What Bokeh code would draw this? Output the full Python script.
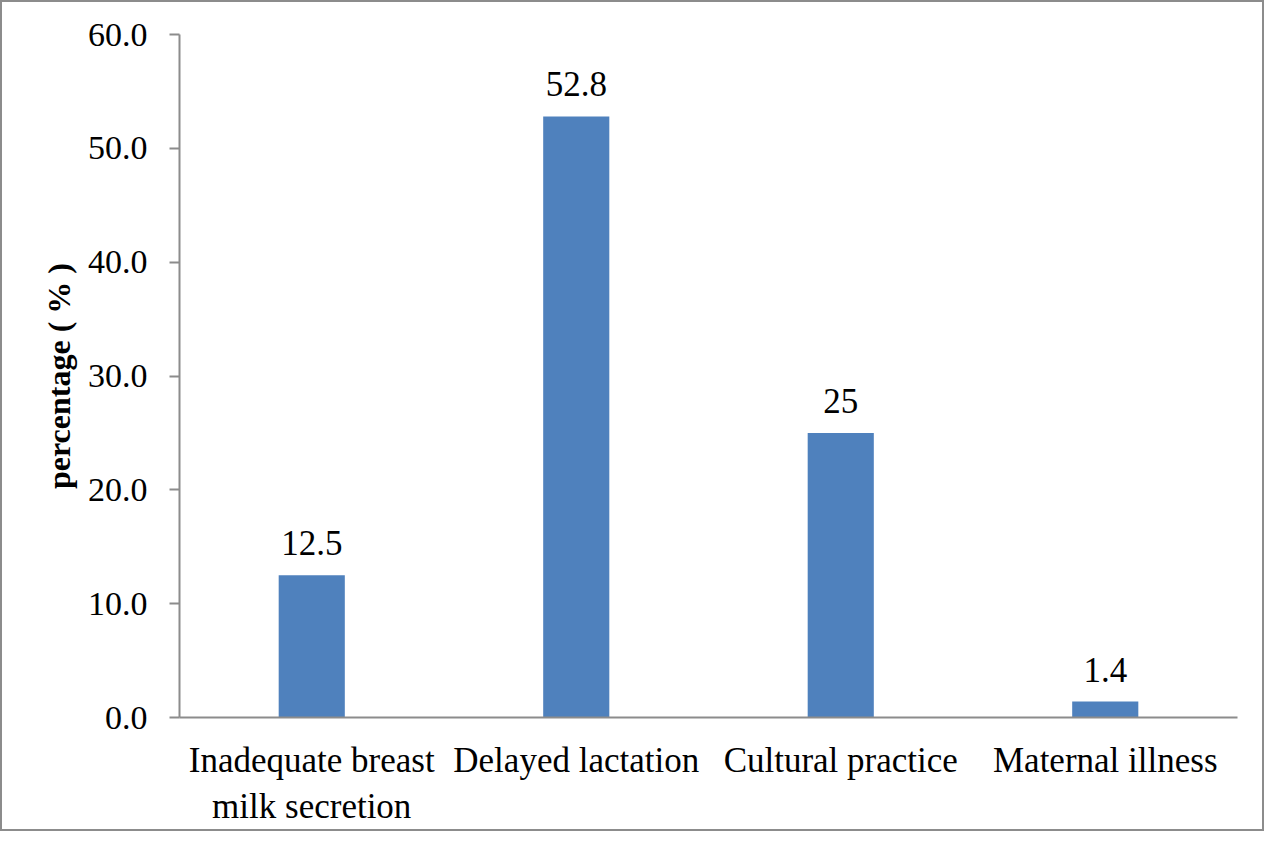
from bokeh.plotting import figure
from bokeh.models import ColumnDataSource, FactorRange, Range1d, FixedTicker, LabelSet, CustomJSTickFormatter
from bokeh.embed import file_html
from bokeh.resources import INLINE

categories = ["Inadequate breast\nmilk secretion", "Delayed lactation", "Cultural practice", "Maternal illness"]
values = [12.5, 52.8, 25.0, 1.4]
value_labels = ["12.5", "52.8", "25", "1.4"]
y_ticks = [0, 10, 20, 30, 40, 50, 60]

FONT = "'Liberation Serif', 'Times New Roman', serif"
GRAY = "#8c8c8c"
BLUE = "#4f81bd"

src = ColumnDataSource(dict(cat=categories, val=values, lab=value_labels))

W, H = 1264, 831
p = figure(width=W, height=H, output_backend="svg", toolbar_location=None,
           x_range=FactorRange(*categories, range_padding=0),
           y_range=Range1d(0, 60),
           min_border_left=177, min_border_right=29, min_border_top=32, min_border_bottom=116)
p.styles = {"border": f"2px solid {GRAY}", "box-sizing": "border-box"}

p.vbar(x="cat", top="val", width=0.25, source=src, color=BLUE, line_color=None)

labels = LabelSet(x="cat", y="val", text="lab", source=src, text_align="center",
                  text_baseline="alphabetic", y_offset=20, text_font=FONT,
                  text_font_size="35px", text_color="#000000")
p.add_layout(labels)

p.grid.visible = False
p.outline_line_color = None

p.yaxis.ticker = FixedTicker(ticks=y_ticks)
p.yaxis.formatter = CustomJSTickFormatter(code="return tick.toFixed(1);")
p.yaxis.axis_label = "percentage ( % )"
p.yaxis.axis_label_text_font = FONT
p.yaxis.axis_label_text_font_style = "bold"
p.yaxis.axis_label_text_font_size = "32px"
p.yaxis.axis_label_standoff = 8
p.yaxis.major_label_text_font = FONT
p.yaxis.major_label_text_font_size = "34px"
p.yaxis.major_label_standoff = 22
p.yaxis.major_tick_out = 10
p.yaxis.major_tick_in = 0
p.yaxis.minor_tick_out = 0
p.yaxis.minor_tick_in = 0
p.yaxis.axis_line_color = GRAY
p.yaxis.axis_line_width = 2
p.yaxis.major_tick_line_color = GRAY
p.yaxis.major_tick_line_width = 2

p.xaxis.major_label_text_font = FONT
p.xaxis.major_label_text_font_size = "35px"
p.xaxis.major_label_standoff = 17
p.xaxis.major_tick_line_color = None
p.xaxis.minor_tick_line_color = None
p.xaxis.axis_line_color = GRAY
p.xaxis.axis_line_width = 2
p.xaxis.major_label_text_color = "#000000"
p.yaxis.major_label_text_color = "#000000"
p.yaxis.axis_label_text_color = "#000000"

open("out.html", "w").write(file_html(p, INLINE))
